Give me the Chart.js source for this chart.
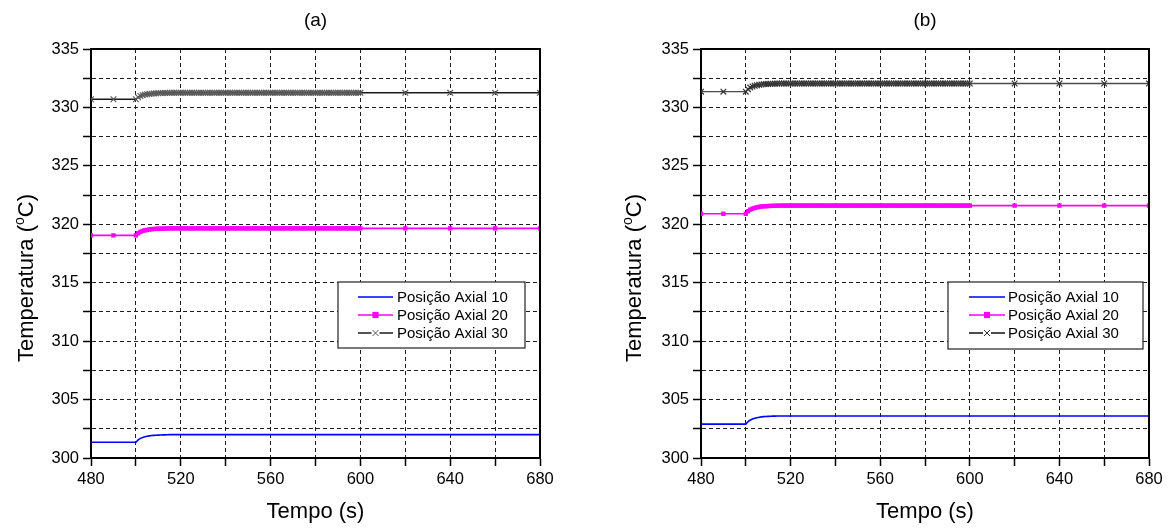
<!DOCTYPE html>
<html>
<head>
<meta charset="utf-8">
<script src="https://cdn.jsdelivr.net/npm/chart.js@4.4.1/dist/chart.umd.min.js"></script>
<style>
  html, body { margin: 0; padding: 0; background: #fff; }
  #wrap { position: relative; width: 1170px; height: 531px; overflow: hidden; }
  canvas { position: absolute; top: 0; }
  #chartA { left: 0; }
  #chartB { left: 585px; }
</style>
</head>
<body>
<div id="wrap">
  <canvas id="chartA" width="585" height="531"></canvas>
  <canvas id="chartB" width="585" height="531"></canvas>
</div>
<script>
// ---- labels ----
const panelTitles = ['(a)', '(b)'];
const seriesNames = ['Posição Axial 10', 'Posição Axial 20', 'Posição Axial 30'];
const xTitle = 'Tempo (s)';
const yTitleParts = ['Temperatura (', 'o', 'C)'];   // "o" is drawn as a superscript

// ---- axis ranges / ticks ----
const xMin = 480, xMax = 680, xStep = 20, xLabelEvery = 40;
const yMin = 300, yMax = 335, yStep = 2.5, yLabelEvery = 5;

// ---- sample times (s) ----
const time = [
  480, 490,
  500, 501, 502, 503, 504, 505, 506, 507, 508, 509,
  510, 511, 512, 513, 514, 515, 516, 517, 518, 519,
  520, 521, 522, 523, 524, 525, 526, 527, 528, 529,
  530, 531, 532, 533, 534, 535, 536, 537, 538, 539,
  540, 541, 542, 543, 544, 545, 546, 547, 548, 549,
  550, 551, 552, 553, 554, 555, 556, 557, 558, 559,
  560, 561, 562, 563, 564, 565, 566, 567, 568, 569,
  570, 571, 572, 573, 574, 575, 576, 577, 578, 579,
  580, 581, 582, 583, 584, 585, 586, 587, 588, 589,
  590, 591, 592, 593, 594, 595, 596, 597, 598, 599,
  600, 620, 640, 660, 680
];

// ---- panel (a) temperatures (°C) ----
const a10 = [
  301.35, 301.35,
  301.35, 301.55, 301.68, 301.76, 301.82, 301.86, 301.89, 301.92, 301.94, 301.95,
  301.96, 301.97, 301.98, 301.98, 301.99, 302.0, 302.0, 302.0, 302.0, 302.0,
  302.0, 302.0, 302.0, 302.0, 302.0, 302.0, 302.0, 302.0, 302.0, 302.0,
  302.0, 302.0, 302.0, 302.0, 302.0, 302.0, 302.0, 302.0, 302.0, 302.0,
  302.0, 302.0, 302.0, 302.0, 302.0, 302.0, 302.0, 302.0, 302.0, 302.0,
  302.0, 302.0, 302.0, 302.0, 302.0, 302.0, 302.0, 302.0, 302.0, 302.0,
  302.0, 302.0, 302.0, 302.0, 302.0, 302.0, 302.0, 302.0, 302.0, 302.0,
  302.0, 302.0, 302.0, 302.0, 302.0, 302.0, 302.0, 302.0, 302.0, 302.0,
  302.0, 302.0, 302.0, 302.0, 302.0, 302.0, 302.0, 302.0, 302.0, 302.0,
  302.0, 302.0, 302.0, 302.0, 302.0, 302.0, 302.0, 302.0, 302.0, 302.0,
  302.0, 302.0, 302.0, 302.0, 302.0
];
const a20 = [
  319.05, 319.05,
  319.05, 319.23, 319.35, 319.43, 319.48, 319.52, 319.55, 319.58, 319.60, 319.61,
  319.62, 319.63, 319.63, 319.64, 319.64, 319.65, 319.65, 319.65, 319.65, 319.65,
  319.65, 319.65, 319.65, 319.65, 319.65, 319.65, 319.65, 319.65, 319.65, 319.65,
  319.65, 319.65, 319.65, 319.65, 319.65, 319.65, 319.65, 319.65, 319.65, 319.65,
  319.65, 319.65, 319.65, 319.65, 319.65, 319.65, 319.65, 319.65, 319.65, 319.65,
  319.65, 319.65, 319.65, 319.65, 319.65, 319.65, 319.65, 319.65, 319.65, 319.65,
  319.65, 319.65, 319.65, 319.65, 319.65, 319.65, 319.65, 319.65, 319.65, 319.65,
  319.65, 319.65, 319.65, 319.65, 319.65, 319.65, 319.65, 319.65, 319.65, 319.65,
  319.65, 319.65, 319.65, 319.65, 319.65, 319.65, 319.65, 319.65, 319.65, 319.65,
  319.65, 319.65, 319.65, 319.65, 319.65, 319.65, 319.65, 319.65, 319.65, 319.65,
  319.65, 319.65, 319.65, 319.65, 319.65
];
const a30 = [
  330.70, 330.70,
  330.70, 330.87, 330.98, 331.05, 331.10, 331.13, 331.16, 331.18, 331.20, 331.21,
  331.22, 331.23, 331.23, 331.24, 331.24, 331.25, 331.25, 331.25, 331.25, 331.25,
  331.25, 331.25, 331.25, 331.25, 331.25, 331.25, 331.25, 331.25, 331.25, 331.25,
  331.25, 331.25, 331.25, 331.25, 331.25, 331.25, 331.25, 331.25, 331.25, 331.25,
  331.25, 331.25, 331.25, 331.25, 331.25, 331.25, 331.25, 331.25, 331.25, 331.25,
  331.25, 331.25, 331.25, 331.25, 331.25, 331.25, 331.25, 331.25, 331.25, 331.25,
  331.25, 331.25, 331.25, 331.25, 331.25, 331.25, 331.25, 331.25, 331.25, 331.25,
  331.25, 331.25, 331.25, 331.25, 331.25, 331.25, 331.25, 331.25, 331.25, 331.25,
  331.25, 331.25, 331.25, 331.25, 331.25, 331.25, 331.25, 331.25, 331.25, 331.25,
  331.25, 331.25, 331.25, 331.25, 331.25, 331.25, 331.25, 331.25, 331.25, 331.25,
  331.25, 331.25, 331.25, 331.25, 331.25
];

// ---- panel (b) temperatures (°C) ----
const b10 = [
  302.90, 302.90,
  302.90, 303.11, 303.25, 303.34, 303.40, 303.45, 303.49, 303.52, 303.54, 303.55,
  303.56, 303.57, 303.58, 303.58, 303.59, 303.60, 303.60, 303.60, 303.60, 303.60,
  303.60, 303.60, 303.60, 303.60, 303.60, 303.60, 303.60, 303.60, 303.60, 303.60,
  303.60, 303.60, 303.60, 303.60, 303.60, 303.60, 303.60, 303.60, 303.60, 303.60,
  303.60, 303.60, 303.60, 303.60, 303.60, 303.60, 303.60, 303.60, 303.60, 303.60,
  303.60, 303.60, 303.60, 303.60, 303.60, 303.60, 303.60, 303.60, 303.60, 303.60,
  303.60, 303.60, 303.60, 303.60, 303.60, 303.60, 303.60, 303.60, 303.60, 303.60,
  303.60, 303.60, 303.60, 303.60, 303.60, 303.60, 303.60, 303.60, 303.60, 303.60,
  303.60, 303.60, 303.60, 303.60, 303.60, 303.60, 303.60, 303.60, 303.60, 303.60,
  303.60, 303.60, 303.60, 303.60, 303.60, 303.60, 303.60, 303.60, 303.60, 303.60,
  303.60, 303.60, 303.60, 303.60, 303.60
];
const b20 = [
  320.90, 320.90,
  320.90, 321.11, 321.25, 321.34, 321.40, 321.45, 321.49, 321.52, 321.54, 321.55,
  321.56, 321.57, 321.58, 321.58, 321.59, 321.60, 321.60, 321.60, 321.60, 321.60,
  321.60, 321.60, 321.60, 321.60, 321.60, 321.60, 321.60, 321.60, 321.60, 321.60,
  321.60, 321.60, 321.60, 321.60, 321.60, 321.60, 321.60, 321.60, 321.60, 321.60,
  321.60, 321.60, 321.60, 321.60, 321.60, 321.60, 321.60, 321.60, 321.60, 321.60,
  321.60, 321.60, 321.60, 321.60, 321.60, 321.60, 321.60, 321.60, 321.60, 321.60,
  321.60, 321.60, 321.60, 321.60, 321.60, 321.60, 321.60, 321.60, 321.60, 321.60,
  321.60, 321.60, 321.60, 321.60, 321.60, 321.60, 321.60, 321.60, 321.60, 321.60,
  321.60, 321.60, 321.60, 321.60, 321.60, 321.60, 321.60, 321.60, 321.60, 321.60,
  321.60, 321.60, 321.60, 321.60, 321.60, 321.60, 321.60, 321.60, 321.60, 321.60,
  321.60, 321.60, 321.60, 321.60, 321.60
];
const b30 = [
  331.35, 331.35,
  331.35, 331.56, 331.70, 331.79, 331.85, 331.90, 331.94, 331.97, 331.99, 332.00,
  332.01, 332.02, 332.03, 332.03, 332.04, 332.05, 332.05, 332.05, 332.05, 332.05,
  332.05, 332.05, 332.05, 332.05, 332.05, 332.05, 332.05, 332.05, 332.05, 332.05,
  332.05, 332.05, 332.05, 332.05, 332.05, 332.05, 332.05, 332.05, 332.05, 332.05,
  332.05, 332.05, 332.05, 332.05, 332.05, 332.05, 332.05, 332.05, 332.05, 332.05,
  332.05, 332.05, 332.05, 332.05, 332.05, 332.05, 332.05, 332.05, 332.05, 332.05,
  332.05, 332.05, 332.05, 332.05, 332.05, 332.05, 332.05, 332.05, 332.05, 332.05,
  332.05, 332.05, 332.05, 332.05, 332.05, 332.05, 332.05, 332.05, 332.05, 332.05,
  332.05, 332.05, 332.05, 332.05, 332.05, 332.05, 332.05, 332.05, 332.05, 332.05,
  332.05, 332.05, 332.05, 332.05, 332.05, 332.05, 332.05, 332.05, 332.05, 332.05,
  332.05, 332.05, 332.05, 332.05, 332.05
];

// ---- drawing ----
const FONT = '"Liberation Sans", Arial, Helvetica, sans-serif';

function toPoints(values) {
  return time.map((t, i) => ({ x: t, y: values[i] }));
}

function isMultiple(v, step) {
  const r = Math.abs(v / step - Math.round(v / step));
  return r < 1e-6;
}

// Frame, panel title, axis titles and a boxed legend drawn on top of the plot
const decorPlugin = {
  id: 'decor',
  afterDraw(chart, args, o) {
    const { ctx, chartArea: ca } = chart;
    const cx = (ca.left + ca.right) / 2;
    ctx.save();

    // top and right edges of the frame
    ctx.strokeStyle = '#000';
    ctx.lineWidth = 2;
    ctx.beginPath();
    ctx.moveTo(ca.left - 1, ca.top);
    ctx.lineTo(ca.right, ca.top);
    ctx.lineTo(ca.right, ca.bottom + 1);
    ctx.stroke();

    ctx.fillStyle = '#000';
    ctx.textAlign = 'center';
    ctx.textBaseline = 'middle';

    // panel title
    ctx.font = '19px ' + FONT;
    ctx.fillText(o.title, cx, 21);

    // x-axis title
    ctx.font = '22px ' + FONT;
    ctx.fillText(xTitle, cx, 512);

    // y-axis title with superscript
    ctx.save();
    ctx.translate(o.yTitleX, o.yTitleY);
    ctx.rotate(-Math.PI / 2);
    ctx.textAlign = 'left';
    ctx.textBaseline = 'alphabetic';
    const mainFont = '22px ' + FONT, supFont = '14px ' + FONT;
    ctx.font = mainFont; const w1 = ctx.measureText(yTitleParts[0]).width;
    ctx.font = supFont;  const w2 = ctx.measureText(yTitleParts[1]).width;
    ctx.font = mainFont; const w3 = ctx.measureText(yTitleParts[2]).width;
    let x = -(w1 + w2 + w3) / 2;
    ctx.font = mainFont; ctx.fillText(yTitleParts[0], x, 8); x += w1;
    ctx.font = supFont;  ctx.fillText(yTitleParts[1], x, -1); x += w2;
    ctx.font = mainFont; ctx.fillText(yTitleParts[2], x, 8);
    ctx.restore();

    // legend
    const L = o.legend;
    ctx.fillStyle = '#fff';
    ctx.fillRect(L.x, L.y, L.w, L.h);
    ctx.strokeStyle = '#333';
    ctx.lineWidth = 1.3;
    ctx.strokeRect(L.x, L.y, L.w, L.h);
    ctx.font = '15px ' + FONT;
    ctx.textAlign = 'left';
    ctx.textBaseline = 'middle';
    chart.data.datasets.forEach((ds, i) => {
      const y = L.y + L.firstRow + i * L.rowGap;
      ctx.strokeStyle = ds.legendLine || ds.borderColor;
      ctx.lineWidth = ds.borderWidth;
      ctx.beginPath();
      ctx.moveTo(L.lineX1, y);
      ctx.lineTo(L.lineX2, y);
      ctx.stroke();
      const mx = (L.lineX1 + L.lineX2) / 2;
      if (ds.pointStyle === 'rect' && ds.pointRadius > 0) {
        ctx.fillStyle = ds.pointBackgroundColor;
        const s = ds.pointRadius * 2;
        ctx.fillRect(mx - s / 2, y - s / 2, s, s);
      } else if (ds.pointStyle === 'crossRot' && ds.pointRadius > 0) {
        ctx.fillStyle = '#fff';
        ctx.fillRect(mx - 4, y - 4, 8, 8);
        ctx.strokeStyle = ds.pointBorderColor;
        ctx.lineWidth = 1;
        const r = ds.pointRadius * 0.75;
        ctx.beginPath();
        ctx.moveTo(mx - r, y - r); ctx.lineTo(mx + r, y + r);
        ctx.moveTo(mx - r, y + r); ctx.lineTo(mx + r, y - r);
        ctx.stroke();
      }
      ctx.fillStyle = '#000';
      ctx.fillText(ds.label, L.textX, y + 0.5);
    });

    ctx.restore();
  }
};

function makeChart(canvasId, p) {
  const datasets = [
    {
      label: seriesNames[0], data: toPoints(p.v10),
      borderColor: '#0000ff', borderWidth: 1.6,
      pointRadius: 0, pointHoverRadius: 0, pointStyle: 'circle'
    },
    {
      label: seriesNames[1], data: toPoints(p.v20),
      borderColor: '#ff00ff', borderWidth: 1.6,
      pointStyle: 'rect', pointRadius: 3.1, pointHoverRadius: 3.1,
      pointBackgroundColor: '#ff00ff', pointBorderColor: '#ff00ff', pointBorderWidth: 0
    },
    {
      label: seriesNames[2], data: toPoints(p.v30),
      borderColor: p.c30Line, legendLine: p.c30Legend, borderWidth: 1.4,
      pointStyle: 'crossRot', pointRadius: 4, pointHoverRadius: 4,
      pointBackgroundColor: 'rgba(0,0,0,0)', pointBorderColor: p.c30Mark, pointBorderWidth: 1.2
    }
  ];

  const gridCommon = {
    color: '#1e1e1e', lineWidth: 1,
    drawTicks: true, tickLength: 8, tickColor: '#000', tickWidth: 1.5, tickBorderDash: []
  };

  return new Chart(document.getElementById(canvasId), {
    type: 'line',
    data: { datasets },
    options: {
      responsive: false,
      animation: false,
      events: [],
      layout: { padding: { top: 49, right: p.padRight, left: 0, bottom: 0 } },
      elements: { line: { tension: 0 } },
      datasets: { line: { clip: 0 } },
      plugins: {
        legend: { display: false },
        tooltip: { enabled: false },
        decor: p.decor
      },
      scales: {
        x: {
          type: 'linear', min: xMin, max: xMax,
          ticks: {
            stepSize: xStep, autoSkip: false, maxRotation: 0, padding: 4,
            color: '#000', font: { family: FONT, size: 16.5 },
            callback: v => isMultiple(v, xLabelEvery) ? String(v) : ''
          },
          grid: gridCommon,
          border: { display: true, color: '#000', width: 2, dash: [4, 3] },
          afterFit: s => { s.height = 73; }
        },
        y: {
          type: 'linear', min: yMin, max: yMax,
          ticks: {
            stepSize: yStep, autoSkip: false, padding: 4,
            color: '#000', font: { family: FONT, size: 16.5 },
            callback: v => isMultiple(v, yLabelEvery) ? String(Math.round(v)) : ''
          },
          grid: gridCommon,
          border: { display: true, color: '#000', width: 2, dash: [4, 3] },
          afterFit: s => { s.width = p.yAxisWidth; }
        }
      }
    },
    plugins: [decorPlugin]
  });
}

makeChart('chartA', {
  v10: a10, v20: a20, v30: a30,
  c30Line: '#1a1a1a', c30Mark: '#5a5a5a', c30Legend: '#1a1a1a',
  yAxisWidth: 91, padRight: 45,
  decor: {
    title: panelTitles[0], yTitleX: 25, yTitleY: 278,
    legend: { x: 338, y: 282, w: 187, h: 66, firstRow: 15, rowGap: 18,
              lineX1: 358, lineX2: 393, textX: 397 }
  }
});

makeChart('chartB', {
  v10: b10, v20: b20, v30: b30,
  c30Line: '#4a4a4a', c30Mark: '#333333', c30Legend: '#111111',
  yAxisWidth: 116, padRight: 21,
  decor: {
    title: panelTitles[1], yTitleX: 48, yTitleY: 278,
    legend: { x: 363, y: 282, w: 195, h: 67, firstRow: 15, rowGap: 18,
              lineX1: 384, lineX2: 420, textX: 423 }
  }
});
</script>
</body>
</html>
